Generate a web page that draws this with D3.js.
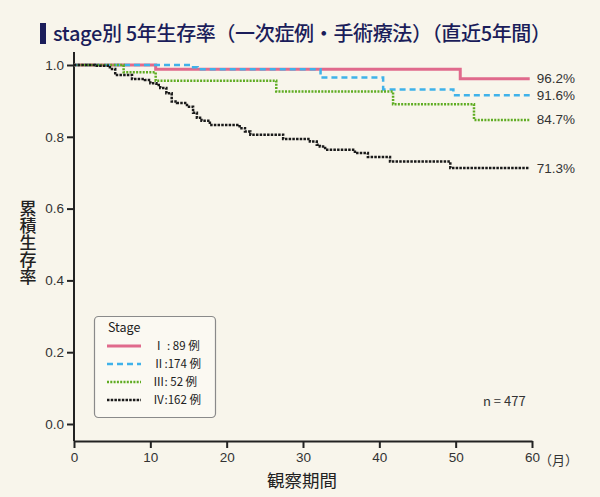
<!DOCTYPE html>
<html>
<head>
<meta charset="utf-8">
<script src="https://cdn.jsdelivr.net/npm/d3@7"></script>
<style>
  body { margin: 0; background: #f8f5eb; }
  svg { display: block; font-family: "Noto Sans CJK JP", "Noto Sans", sans-serif; }
</style>
</head>
<body>
<svg id="chart" width="600" height="497"></svg>
<script>
// step curves: months, survival
let stage1Months = [0, 10.7, 50.6, 59.7];
let stage1Surv   = [1, 0.988, 0.962, 0.962];
let stage2Months = [0, 15.3, 16.2, 32.3, 40.5, 49.7, 59.7];
let stage2Surv   = [1, 0.994, 0.988, 0.965, 0.932, 0.916, 0.916];
let stage3Months = [0, 6.5, 10.7, 26.5, 41.8, 52.4, 59.7];
let stage3Surv   = [1, 0.98, 0.956, 0.926, 0.891, 0.847, 0.847];
let stage4Months = [0, 2.75, 4.7, 5.4, 7.6, 9.3, 10.0, 10.8, 11.3, 12.1, 12.8, 13.5, 14.8, 15.6, 16.1, 16.7, 17.8,
                    21.7, 22.4, 23.1, 27.4, 30.9, 31.8, 32.2, 32.9, 36.8, 38.5, 41.4, 49.3, 59.7];
let stage4Surv   = [1, 0.998, 0.989, 0.972, 0.961, 0.958, 0.949, 0.944, 0.936, 0.921, 0.898, 0.894, 0.884, 0.867, 0.853, 0.845, 0.833,
                    0.824, 0.815, 0.806, 0.794, 0.787, 0.778, 0.773, 0.764, 0.755, 0.744, 0.731, 0.713, 0.713];

let stageNames  = ["Ⅰ : 89 例", "Ⅱ:174 例", "Ⅲ: 52 例", "Ⅳ:162 例"];
let finalLabels = ["96.2%", "91.6%", "84.7%", "71.3%"];
let xTicks = [0, 10, 20, 30, 40, 50, 60];
let yTicks = [0, 0.2, 0.4, 0.6, 0.8, 1.0];

let styles = [
    {color: "#e06a8c", width: 3, dash: null},
    {color: "#3fb2ea", width: 2.5, dash: "6,4"},
    {color: "#5fac22", width: 2.5, dash: "2,1.3"},
    {color: "#1a1a1a", width: 2.5, dash: "2.5,1.2"}
];

let series = [
    [stage1Months, stage1Surv],
    [stage2Months, stage2Surv],
    [stage3Months, stage3Surv],
    [stage4Months, stage4Surv]
].map(([m, s]) => m.map((d, i) => ({t: d, s: s[i]})));

let svg = d3.select("#chart");

let x = d3.scaleLinear().domain([0, 60]).range([74, 532]);
let y = d3.scaleLinear().domain([0, 1]).range([424, 65]);
let axisY = 441;

// title
svg.append("rect").attr("x", 40).attr("y", 23).attr("width", 6).attr("height", 21).attr("fill", "#1b1d5a");
svg.append("text").attr("x", 53).attr("y", 41)
    .attr("font-size", 20).attr("font-weight", 500).attr("fill", "#1b1d5a")
    .attr("textLength", 498).attr("lengthAdjust", "spacing")
    .text("stage別 5年生存率（一次症例・手術療法）（直近5年間）");

// axes
let gx = svg.append("g").attr("transform", `translate(0,${axisY})`)
    .call(d3.axisBottom(x).tickValues(xTicks).tickSize(7).tickSizeOuter(0).tickPadding(4));
let gy = svg.append("g").attr("transform", "translate(74,0)")
    .call(d3.axisLeft(y).tickValues(yTicks).tickFormat(d3.format(".1f")).tickSize(7).tickSizeOuter(0).tickPadding(3));
gy.select(".domain").attr("d", `M0,52V${axisY}`);
[gx, gy].forEach(g => {
    g.selectAll("path, line").attr("stroke", "#222").attr("stroke-width", 2);
    g.selectAll("text").attr("font-size", 13.5).attr("fill", "#333")
        .attr("font-family", "'Liberation Sans', 'Noto Sans', sans-serif");
});
svg.append("text").attr("x", x(60) + 7).attr("y", axisY + 24)
    .attr("font-size", 13).attr("fill", "#333").text("（月）");

svg.append("text").attr("x", 302).attr("y", 487).attr("text-anchor", "middle")
    .attr("font-size", 17.5).attr("fill", "#222").text("観察期間");

svg.append("text").attr("x", 28).attr("y", 200)
    .attr("writing-mode", "vertical-rl").attr("glyph-orientation-vertical", 0)
    .attr("font-size", 17).attr("font-weight", 500).attr("fill", "#222")
    .text("累積生存率");

// curves
let line = d3.line().x(d => x(d.t)).y(d => y(d.s)).curve(d3.curveStepAfter);
svg.append("g").selectAll("path").data(series).enter().append("path")
    .attr("d", line).attr("fill", "none")
    .attr("stroke", (d, i) => styles[i].color)
    .attr("stroke-width", (d, i) => styles[i].width)
    .attr("stroke-dasharray", (d, i) => styles[i].dash);

svg.append("g").selectAll("text").data(series).enter().append("text")
    .attr("x", 575).attr("y", d => y(d[d.length - 1].s) + 4.5).attr("text-anchor", "end")
    .attr("font-size", 13.5).attr("fill", "#333")
    .attr("font-family", "'Liberation Sans', sans-serif")
    .text((d, i) => finalLabels[i]);

// legend
let legend = svg.append("g");
legend.append("rect").attr("x", 94.5).attr("y", 316.5).attr("width", 121).attr("height", 101).attr("rx", 4)
    .attr("fill", "#fbf9f2").attr("stroke", "#8a8a8a").attr("stroke-width", 1.2);
legend.append("text").attr("x", 108).attr("y", 332).attr("font-size", 12.5).attr("fill", "#222").text("Stage");
stageNames.forEach((name, i) => {
    let ly = 346 + i * 18;
    legend.append("line").attr("x1", 107).attr("x2", 141).attr("y1", ly).attr("y2", ly)
        .attr("stroke", styles[i].color).attr("stroke-width", styles[i].width)
        .attr("stroke-dasharray", styles[i].dash);
    legend.append("text").attr("x", 153).attr("y", ly + 4).attr("font-size", 11.5).attr("fill", "#222").text(name);
});

svg.append("text").attr("x", 483).attr("y", 406).attr("font-size", 13).attr("fill", "#333").text("n = 477");
</script>
</body>
</html>
